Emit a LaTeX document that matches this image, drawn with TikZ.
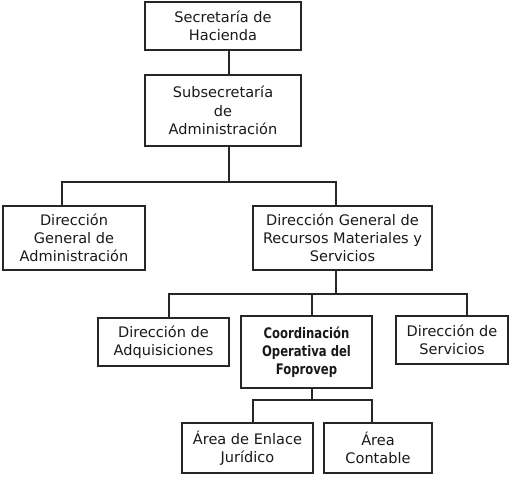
\documentclass[tikz,border=0pt]{standalone}
\usepackage{fontspec}
\setmainfont{DejaVu Sans}
\newfontfamily\narrowbold[FakeStretch=0.8]{DejaVu Sans}
\begin{document}
\begin{tikzpicture}[x=0.75pt,y=-0.75pt,
  box/.style={draw=black!85,line width=1pt,inner sep=0pt,align=center,
    font=\fontsize{10.9}{13.7}\selectfont,text=black!90},
  wh/.style 2 args={minimum width=#1*0.75pt,minimum height=#2*0.75pt},
  conn/.style={draw=black!85,line width=1pt}]
\useasboundingbox (0,0) rectangle (518,476);
\node[box,wh={156}{48}] (sec) at (223,26) {Secretaría de\\Hacienda};
\node[box,wh={156}{71}] (sub) at (223,110.5) {Subsecretaría\\de\\Administración};
\node[box,wh={142}{64}] (dga) at (74,238) {Dirección\\General de\\Administración};
\node[box,wh={179}{64}] (dgr) at (342.5,238) {Dirección General de\\Recursos Materiales y\\Servicios};
\node[box,wh={131}{48}] (adq) at (163.5,342) {Dirección de\\Adquisiciones};
\node[box,wh={131}{72},font=\narrowbold\fontsize{10.9}{13.7}\selectfont\bfseries] (coo) at (306.5,352) {Coordinación\\Operativa del\\Foprovep};
\node[box,wh={112}{48}] (ser) at (452,340) {Dirección de\\Servicios};
\node[box,wh={131}{50}] (enl) at (247.5,448) {Área de Enlace\\Jurídico};
\node[box,wh={108}{50}] (con) at (378,448) {Área\\Contable};
\coordinate (j1) at (229,182);
\coordinate (l1) at (62,182);
\coordinate (r1) at (336,182);
\coordinate (j2) at (336,294);
\coordinate (l2) at (169,294);
\coordinate (m2) at (312,294);
\coordinate (r2) at (467,294);
\coordinate (j3) at (312,400);
\coordinate (l3) at (253,400);
\coordinate (r3) at (372,400);
\draw[conn] (sec.south -| j1) -- (sub.north -| j1);
\draw[conn] (sub.south -| j1) -- (j1);
\draw[conn] (dga.north -| l1) -- (l1) -- (r1) -- (dgr.north -| r1);
\draw[conn] (dgr.south -| j2) -- (j2);
\draw[conn] (adq.north -| l2) -- (l2) -- (r2) -- (ser.north -| r2);
\draw[conn] (m2) -- (coo.north -| m2);
\draw[conn] (coo.south -| j3) -- (j3);
\draw[conn] (enl.north -| l3) -- (l3) -- (r3) -- (con.north -| r3);
\end{tikzpicture}
\end{document}
